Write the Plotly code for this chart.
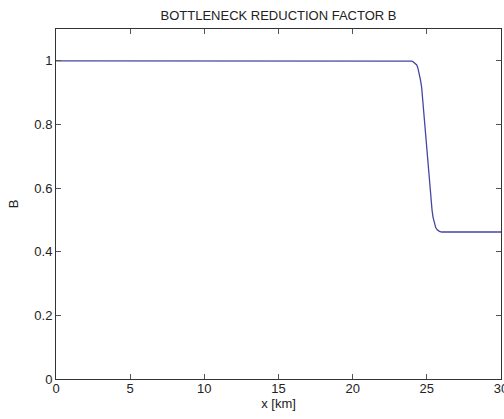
import plotly.graph_objects as go

x_km = [0, 5, 10, 15, 20, 23.9, 24.0, 24.09, 24.2, 24.32, 24.4, 24.49, 24.57, 24.65, 24.73,
        24.81, 24.9, 24.99, 25.08, 25.17, 25.26, 25.35, 25.42, 25.50, 25.6, 25.70, 25.85,
        26.00, 27, 30]
b_val = [1.0, 1.0, 1.0, 1.0, 1.0, 1.0, 0.999, 0.996, 0.993, 0.987, 0.977, 0.961, 0.94, 0.917, 0.873,
         0.825, 0.771, 0.717, 0.661, 0.615, 0.571, 0.531, 0.508, 0.490, 0.476, 0.469, 0.464,
         0.462, 0.462, 0.462]

x_ticks = [0, 5, 10, 15, 20, 25, 30]
y_ticks = [0, 0.2, 0.4, 0.6, 0.8, 1]
y_tick_text = ["0", "0.2", "0.4", "0.6", "0.8", "1"]

FONT = "Liberation Sans, Arial"
fig = go.Figure()
fig.add_trace(go.Scatter(x=x_km, y=b_val, mode="lines",
                         line=dict(color="#4545a5", width=1.3),
                         showlegend=False))

axis_common = dict(showline=True, linecolor="#333", linewidth=1, mirror="ticks",
                   ticks="inside", ticklen=5, tickcolor="#555", showgrid=False,
                   zeroline=False, ticklabeloverflow="allow", automargin=False,
                   tickfont=dict(family=FONT, size=13, color="#222"))

fig.update_layout(
    width=504, height=419,
    margin=dict(l=56, r=3, t=29, b=40, autoexpand=False),
    paper_bgcolor="white", plot_bgcolor="white",
    title=dict(text="BOTTLENECK REDUCTION FACTOR B", x=(56 + 501) / 2 / 504, xanchor="center",
               y=1 - 15 / 419, yanchor="middle", yref="container",
               font=dict(family=FONT, size=13, color="#222")),
    xaxis=dict(range=[0, 30], tickvals=x_ticks, ticklabelstandoff=-3,
               title=dict(text="x [km]", standoff=0, font=dict(family=FONT, size=13, color="#222")),
               **axis_common),
    yaxis=dict(range=[0, 1.1], tickvals=y_ticks, ticktext=y_tick_text,
               title=dict(text="B", standoff=12, font=dict(family=FONT, size=13, color="#222")),
               **axis_common),
)

fig.write_html("out.html")
